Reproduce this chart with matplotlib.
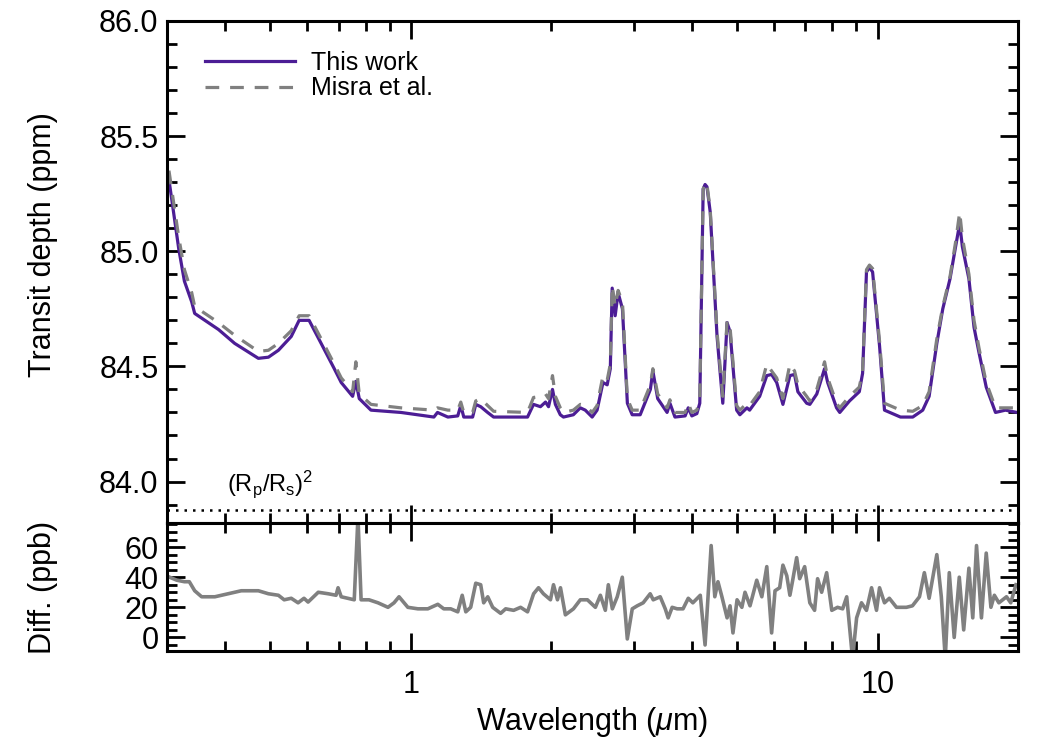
import matplotlib
matplotlib.use("Agg")
import matplotlib.pyplot as plt
from matplotlib.ticker import LogLocator, MultipleLocator, NullFormatter, FuncFormatter

plt.rcParams["font.family"] = ["Liberation Sans", "DejaVu Sans"]
plt.rcParams["mathtext.fontset"] = "custom"
plt.rcParams["mathtext.rm"] = "Liberation Sans"
plt.rcParams["mathtext.it"] = "Liberation Sans:italic"

# wavelength grid (micron) for the two transit spectra
wl = [0.303, 0.318, 0.327, 0.339, 0.344, 0.387, 0.419, 0.471, 0.495, 0.520,
      0.554, 0.576, 0.605, 0.642, 0.685, 0.709, 0.750, 0.762, 0.775, 0.821,
      0.952, 1.12, 1.14, 1.20, 1.26, 1.279, 1.298, 1.356, 1.377, 1.411,
      1.460, 1.504, 1.778, 1.831, 1.895, 1.943, 1.972, 2.011, 2.04, 2.09,
      2.123, 2.229, 2.307, 2.364, 2.446, 2.506, 2.58, 2.634, 2.675, 2.70,
      2.74, 2.78, 2.84, 2.91, 2.98, 3.10, 3.26, 3.30, 3.38, 3.54,
      3.59, 3.68, 3.87, 3.93, 4.00, 4.10, 4.16, 4.23, 4.27, 4.31,
      4.38, 4.53, 4.66, 4.76, 4.83, 4.99, 5.07, 5.25, 5.32, 5.59,
      5.79, 5.93, 6.08, 6.27, 6.49, 6.64, 6.75, 7.05, 7.16, 7.41,
      7.70, 7.82, 8.17, 8.30, 8.71, 9.14, 9.29, 9.47, 9.61, 9.76,
      10.1, 10.35, 11.2, 11.9, 12.5, 12.9, 13.4, 13.8, 14.3, 14.7,
      15.0, 15.2, 15.7, 16.1, 16.5, 17.1, 17.9, 18.8, 19.9]

this_work = [85.31, 85.01, 84.87, 84.78, 84.73, 84.66, 84.60, 84.535, 84.54, 84.57,
             84.63, 84.70, 84.70, 84.60, 84.49, 84.43, 84.37, 84.435, 84.36, 84.31,
             84.30, 84.28, 84.30, 84.28, 84.285, 84.33, 84.28, 84.28, 84.335, 84.325,
             84.30, 84.28, 84.28, 84.335, 84.325, 84.345, 84.325, 84.40, 84.335, 84.29,
             84.28, 84.29, 84.32, 84.31, 84.28, 84.31, 84.43, 84.42, 84.49, 84.84,
             84.72, 84.82, 84.75, 84.34, 84.29, 84.29, 84.40, 84.48, 84.36, 84.30,
             84.34, 84.28, 84.285, 84.32, 84.285, 84.295, 84.34, 85.27, 85.29, 85.28,
             85.17, 84.63, 84.34, 84.69, 84.65, 84.31, 84.29, 84.32, 84.31, 84.37,
             84.46, 84.465, 84.43, 84.335, 84.46, 84.465, 84.39, 84.34, 84.335, 84.38,
             84.49, 84.43, 84.32, 84.30, 84.35, 84.39, 84.47, 84.91, 84.93, 84.91,
             84.59, 84.31, 84.28, 84.28, 84.31, 84.37, 84.60, 84.75, 84.88, 85.02,
             85.12, 85.02, 84.88, 84.67, 84.56, 84.41, 84.30, 84.31, 84.30]

misra = [85.35, 85.06, 84.92, 84.82, 84.76, 84.69, 84.635, 84.565, 84.57, 84.60,
         84.655, 84.72, 84.72, 84.62, 84.51, 84.45, 84.39, 84.52, 84.38, 84.335,
         84.32, 84.31, 84.32, 84.31, 84.31, 84.345, 84.30, 84.30, 84.35, 84.36,
         84.33, 84.305, 84.30, 84.365, 84.37, 84.38, 84.36, 84.46, 84.37, 84.32,
         84.30, 84.31, 84.335, 84.33, 84.30, 84.33, 84.46, 84.44, 84.51, 84.85,
         84.76, 84.83, 84.78, 84.36, 84.31, 84.31, 84.42, 84.49, 84.38, 84.32,
         84.355, 84.30, 84.30, 84.34, 84.30, 84.31, 84.36, 85.27, 85.30, 85.29,
         85.18, 84.65, 84.37, 84.70, 84.67, 84.33, 84.31, 84.34, 84.33, 84.39,
         84.51, 84.48, 84.45, 84.36, 84.51, 84.48, 84.42, 84.37, 84.35, 84.40,
         84.52, 84.45, 84.34, 84.32, 84.37, 84.41, 84.48, 84.92, 84.94, 84.925,
         84.61, 84.34, 84.31, 84.305, 84.33, 84.39, 84.62, 84.76, 84.89, 85.04,
         85.17, 85.06, 84.90, 84.70, 84.58, 84.43, 84.32, 84.32, 84.32]

rp_rs_sq = 83.875

# difference panel (ppb)
diff_wl = [0.304, 0.315, 0.327, 0.335, 0.344, 0.356, 0.380, 0.406, 0.433, 0.471,
           0.495, 0.520, 0.535, 0.554, 0.573, 0.590, 0.602, 0.633, 0.665, 0.691,
           0.698, 0.709, 0.756, 0.770, 0.782, 0.813, 0.850, 0.893, 0.920, 0.943,
           0.985, 1.035, 1.087, 1.142, 1.176, 1.217, 1.26, 1.288, 1.311, 1.343,
           1.377, 1.411, 1.432, 1.461, 1.497, 1.557, 1.596, 1.660, 1.718, 1.778,
           1.832, 1.877, 1.923, 1.991, 2.021, 2.061, 2.092, 2.143, 2.230, 2.307,
           2.389, 2.485, 2.547, 2.610, 2.649, 2.702, 2.768, 2.838, 2.909, 2.981,
           3.055, 3.146, 3.257, 3.306, 3.422, 3.508, 3.559, 3.63, 3.72, 3.83,
           3.93, 4.02, 4.17, 4.27, 4.40, 4.48, 4.55, 4.64, 4.76, 4.83,
           4.90, 5.00, 5.12, 5.20, 5.33, 5.51, 5.65, 5.79, 5.93, 6.03,
           6.17, 6.27, 6.39, 6.49, 6.58, 6.71, 6.81, 6.98, 7.16, 7.33,
           7.44, 7.59, 7.78, 7.98, 8.21, 8.42, 8.59, 8.84, 9.02, 9.24,
           9.47, 9.71, 9.95, 10.1, 10.35, 10.6, 10.98, 11.53, 11.88, 12.30,
           12.6, 12.9, 13.4, 13.7, 13.97, 14.25, 14.6, 14.97, 15.3, 15.7,
           16.0, 16.3, 16.7, 17.1, 17.5, 17.8, 18.2, 18.9, 19.3, 19.8]

diff = [40, 38, 37, 37, 31, 27, 27, 29, 31, 31,
        29, 28, 25, 26, 23, 26, 23.5, 30, 29, 28,
        33, 27, 25, 80, 25, 25, 23, 20, 23, 27,
        20, 19, 19, 22, 19, 19, 17, 28, 17, 20,
        36, 35, 23, 27, 20, 16, 19, 18, 20, 17,
        29, 33, 29, 25, 35, 25, 33, 15, 19, 25,
        25, 20, 28, 18, 35, 19, 27, 40, -1, 19,
        21, 23, 29, 25, 27, 19, 13, 20, 19, 19,
        26, 23, 28, -5, 61, 27, 37, 27, 13, 21,
        3, 25, 20, 30, 21, 38, 27, 47, 3, 31,
        33, 48, 41, 28, 38, 53, 39, 47, 23, 18,
        39, 30, 43, 18, 20, 19, 27, -14, 13, 23,
        18, 33, 18, 33, 23, 26, 20, 20, 21, 27,
        43, 26, 55, 27, -14, 43, 0, 40, 5, 46,
        13, 61, 13, 56, 20, 28, 23, 27, 23, 35]

purple = "#4c1d95"
grey = "#808080"

fig = plt.figure(figsize=(10.5, 7.5), dpi=100)
ax = fig.add_axes([0.159, 0.3027, 0.8105, 0.6693])
ax2 = fig.add_axes([0.159, 0.132, 0.8105, 0.1707])

ax.plot(wl, this_work, color=purple, lw=2.3, label="This work")
ax.plot(wl, misra, color=grey, lw=2.3, ls=(0, (4.3, 3.4)), label="Misra et al.")
ax.axhline(rp_rs_sq, color="black", lw=1.8, ls=(0, (1, 2.4)))
ax.text(0.07, 0.045, r"(R$_\mathrm{p}$/R$_\mathrm{s}$)$^2$", transform=ax.transAxes,
        fontsize=17, ha="left", va="bottom")

ax2.plot(diff_wl, diff, color=grey, lw=2.6)

for a in (ax, ax2):
    a.set_xscale("log")
    a.set_xlim(0.3, 20)
    a.xaxis.set_major_locator(LogLocator(base=10))
    a.xaxis.set_minor_locator(LogLocator(base=10, subs=range(2, 10)))
    a.xaxis.set_minor_formatter(NullFormatter())
    a.tick_params(which="both", direction="in", top=True, right=True, width=2.0)
    a.tick_params(which="major", length=13)
    a.tick_params(which="minor", length=7)
    a.tick_params(axis="y", labelsize=22, pad=6)
    a.tick_params(axis="x", labelsize=22, pad=14)
    for s in a.spines.values():
        s.set_linewidth(2.2)

ax.set_ylim(83.82, 86.0)
ax.yaxis.set_major_locator(MultipleLocator(0.5))
ax.yaxis.set_minor_locator(MultipleLocator(0.1))
ax.yaxis.set_major_formatter(FuncFormatter(lambda v, _: f"{v:.1f}"))
ax.xaxis.set_major_formatter(NullFormatter())
ax.set_ylabel("Transit depth (ppm)", fontsize=22)
ax.yaxis.set_label_coords(-0.128, 0.554)

ax2.set_ylim(-9, 76)
ax2.yaxis.set_major_locator(MultipleLocator(20))
ax2.yaxis.set_minor_locator(MultipleLocator(5))
ax2.xaxis.set_major_formatter(FuncFormatter(lambda v, _: f"{v:g}"))
ax2.set_ylabel("Diff. (ppb)", fontsize=22)
ax2.yaxis.set_label_coords(-0.128, 0.5)
ax2.set_xlabel(r"Wavelength ($\mu$m)", fontsize=22)
ax2.xaxis.set_label_coords(0.5, -0.42)

ax.legend(loc="upper left", bbox_to_anchor=(0.045, 0.94), frameon=False,
          fontsize=18, handlelength=3.6, handletextpad=0.65, labelspacing=0.05,
          borderpad=0, borderaxespad=0)

fig.savefig("out.png", dpi=100)
